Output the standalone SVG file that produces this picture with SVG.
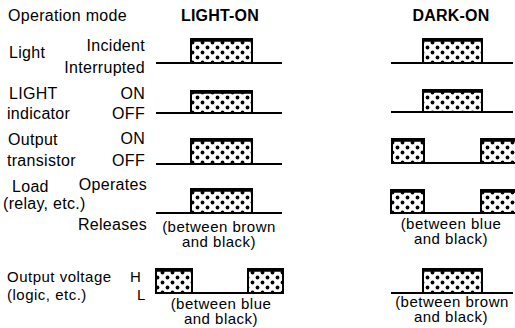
<svg xmlns="http://www.w3.org/2000/svg" width="515" height="328" viewBox="0 0 515 328">
<style>
text{font-family:"Liberation Sans",Arial,sans-serif;font-size:16px;fill:#000;letter-spacing:0.3px}
.s{font-size:15px;letter-spacing:0.5px}
.b{font-weight:bold;letter-spacing:0.2px}
.r{text-anchor:end}
.m{text-anchor:middle}
.base{fill:none;stroke:#000;stroke-width:2}
.pulse{fill:url(#dots);stroke:#000;stroke-width:2}
.top{stroke:#000;stroke-width:3.5}
</style>
<defs>
<pattern id="dots" width="10" height="10" patternUnits="userSpaceOnUse">
<rect width="10" height="10" fill="#fff"/>
<circle cx="2.5" cy="2.5" r="1.9" fill="#000"/>
<circle cx="7.5" cy="7.5" r="1.9" fill="#000"/>
</pattern>
</defs>
<rect width="515" height="328" fill="#fff"/>

<g id="headers">
<text x="8" y="21">Operation mode</text>
<text class="b m" x="220" y="21">LIGHT-ON</text>
<text class="b m" x="451" y="21">DARK-ON</text>
</g>

<g id="labels">
<text x="9" y="58">Light</text>
<text class="r" x="145" y="51">Incident</text>
<text class="r" x="145" y="73">Interrupted</text>
<text x="9" y="99">LIGHT</text>
<text class="r" x="145" y="99">ON</text>
<text x="7" y="119">indicator</text>
<text class="r" x="145" y="119">OFF</text>
<text x="8" y="145">Output</text>
<text class="r" x="145" y="144">ON</text>
<text x="7" y="166">transistor</text>
<text class="r" x="145" y="166">OFF</text>
<text x="12" y="192">Load</text>
<text class="r" x="147" y="190">Operates</text>
<text x="3" y="209">(relay, etc.)</text>
<text class="r" x="147" y="230">Releases</text>
<text class="s" x="7" y="282">Output voltage</text>
<text class="s" x="130" y="282">H</text>
<text class="s" x="7" y="300">(logic, etc.)</text>
<text class="s" x="137" y="300">L</text>
</g>

<g id="light-on">
<g id="lo-light"><line class="base" x1="156" y1="63" x2="282" y2="63"/><rect class="pulse" x="191" y="39" width="61" height="24"/><line class="top" x1="190" y1="40" x2="253" y2="40"/></g>
<g id="lo-indicator"><line class="base" x1="156" y1="113" x2="282" y2="113"/><rect class="pulse" x="191" y="91" width="61" height="22"/><line class="top" x1="190" y1="92" x2="253" y2="92"/></g>
<g id="lo-transistor"><line class="base" x1="156" y1="164" x2="282" y2="164"/><rect class="pulse" x="191" y="139" width="61" height="25"/><line class="top" x1="190" y1="140" x2="253" y2="140"/></g>
<g id="lo-load"><line class="base" x1="156" y1="213" x2="282" y2="213"/><rect class="pulse" x="191" y="189" width="61" height="24"/><line class="top" x1="190" y1="190" x2="253" y2="190"/></g>
<text class="s m" x="219" y="232">(between brown<tspan x="219" dy="15">and black)</tspan></text>
<g id="lo-voltage"><line class="base" x1="156" y1="293" x2="283" y2="293"/><rect class="pulse" x="156" y="269" width="36" height="24"/><line class="top" x1="155" y1="270" x2="193" y2="270"/><rect class="pulse" x="248" y="269" width="35" height="24"/><line class="top" x1="247" y1="270" x2="284" y2="270"/></g>
<text class="s m" x="221" y="309">(between blue<tspan x="221" dy="15">and black)</tspan></text>
</g>

<g id="dark-on">
<g id="do-light"><line class="base" x1="391" y1="63" x2="513" y2="63"/><rect class="pulse" x="423" y="39" width="59" height="24"/><line class="top" x1="422" y1="40" x2="483" y2="40"/></g>
<g id="do-indicator"><line class="base" x1="391" y1="112" x2="513" y2="112"/><rect class="pulse" x="423" y="90" width="59" height="22"/><line class="top" x1="422" y1="91" x2="483" y2="91"/></g>
<g id="do-transistor"><line class="base" x1="391" y1="163" x2="515" y2="163"/><rect class="pulse" x="392" y="139" width="32" height="24"/><line class="top" x1="391" y1="140" x2="425" y2="140"/><rect class="pulse" x="481" y="139" width="36" height="24"/><line class="top" x1="480" y1="140" x2="515" y2="140"/></g>
<g id="do-load"><line class="base" x1="390" y1="213" x2="515" y2="213"/><rect class="pulse" x="391" y="190" width="33" height="23"/><line class="top" x1="390" y1="191" x2="425" y2="191"/><rect class="pulse" x="481" y="190" width="36" height="23"/><line class="top" x1="480" y1="191" x2="515" y2="191"/></g>
<text class="s m" x="451" y="229">(between blue<tspan x="451" dy="15">and black)</tspan></text>
<g id="do-voltage"><line class="base" x1="391" y1="293" x2="513" y2="293"/><rect class="pulse" x="423" y="269" width="59" height="24"/><line class="top" x1="422" y1="270" x2="483" y2="270"/></g>
<text class="s m" x="452" y="307">(between brown<tspan x="451" dy="15">and black)</tspan></text>
</g>
</svg>
